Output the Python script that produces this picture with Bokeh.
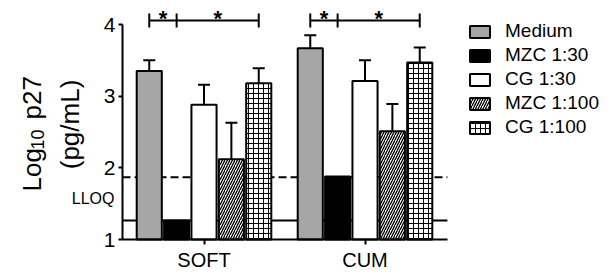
import math
from bokeh.plotting import figure
from bokeh.models import (ColumnDataSource, Legend, LegendItem, Label,
                          FixedTicker, Range1d, LinearAxis)
from bokeh.core.properties import value
from bokeh.embed import file_html
from bokeh.resources import INLINE

# ---------------- data ----------------
groups = ["SOFT", "CUM"]
series = ["Medium", "MZC 1:30", "CG 1:30", "MZC 1:100", "CG 1:100"]

medium = [3.35, 3.67]
medium_upper = [3.50, 3.85]
mzc_30 = [1.265, 1.88]
mzc_30_upper = [None, None]
cg_30 = [2.88, 3.21]
cg_30_upper = [3.16, 3.50]
mzc_100 = [2.12, 2.51]
mzc_100_upper = [2.63, 2.89]
cg_100 = [3.18, 3.47]
cg_100_upper = [3.39, 3.68]

lloq_solid = 1.265
lloq_dashed = 1.87

sig_pairs = [(0, 1), (1, 4)]   # significant comparisons within each group
y_ticks = [1, 2, 3, 4]

# ---------------- layout / styles ----------------
FONT = "Liberation Sans"
pitch = 0.170
bar_w = 0.156
x_axis_start, x_axis_end = -0.506, 1.512
y_axis_start, y_axis_end = 1, 4

styles = [
    dict(fill_color="#a6a6a6"),
    dict(fill_color="black"),
    dict(fill_color="white"),
    dict(fill_color="white", hatch_pattern="/", hatch_color="black", hatch_scale=5, hatch_weight=1.3),
    dict(fill_color="white", hatch_pattern="+", hatch_color="black", hatch_scale=5, hatch_weight=1.0),
]
means = [medium, mzc_30, cg_30, mzc_100, cg_100]
uppers = [medium_upper, mzc_30_upper, cg_30_upper, mzc_100_upper, cg_100_upper]

p = figure(width=606, height=271, output_backend="svg", toolbar_location=None,
           x_range=Range1d(-1.264, 2.500), y_range=Range1d(0.5535, 4.3349),
           x_axis_location=None, y_axis_location=None,
           min_border_left=0, min_border_right=0, min_border_top=0,
           min_border_bottom=0)
p.title.visible = False
p.outline_line_color = None
p.xgrid.grid_line_color = None
p.ygrid.grid_line_color = None
p.background_fill_color = "white"
p.border_fill_color = "white"

# LLOQ lines (under bars)
p.segment(x0=[x_axis_start], y0=[lloq_solid], x1=[x_axis_end], y1=[lloq_solid],
          line_color="black", line_width=2)
p.segment(x0=[x_axis_start], y0=[lloq_dashed], x1=[x_axis_end], y1=[lloq_dashed],
          line_color="black", line_width=2, line_dash="8 4")

group_x = list(range(len(groups)))
renderers = []
for i, (name, m, up, st) in enumerate(zip(series, means, uppers, styles)):
    xs = [g + (i - 2) * pitch for g in group_x]
    src = ColumnDataSource(dict(x=xs, top=m))
    r = p.vbar(x="x", top="top", bottom=y_axis_start, width=bar_w, source=src,
               line_color="black", line_width=2, **st)
    renderers.append(r)
    ex = [x for x, u in zip(xs, up) if u is not None]
    e0 = [mm for mm, u in zip(m, up) if u is not None]
    e1 = [u for u in up if u is not None]
    if ex:
        p.segment(x0=ex, y0=e0, x1=ex, y1=e1, line_color="black", line_width=2)
        p.dash(x=ex, y=e1, size=12, line_color="black", line_width=2)

# significance brackets
br_y = 4.056
br_h = 0.098
for g in group_x:
    pts = sorted(set([a for a, b in sig_pairs] + [b for a, b in sig_pairs]))
    xs_all = [g + (k - 2) * pitch for k in pts]
    p.segment(x0=[min(xs_all)], y0=[br_y], x1=[max(xs_all)], y1=[br_y],
              line_color="black", line_width=2)
    p.segment(x0=xs_all, y0=[br_y - br_h] * len(xs_all), x1=xs_all,
              y1=[br_y + br_h] * len(xs_all), line_color="black", line_width=2)
    sx = [g + ((a + b) / 2 - 2) * pitch for a, b in sig_pairs]
    p.text(x=sx, y=[4.09] * len(sx), text=["*"] * len(sx), text_align="center",
           text_baseline="alphabetic", text_font=value(FONT),
           text_font_size="22px", text_font_style="bold", text_color="black")

# axes (fixed at the data origin of the chart)
yaxis = LinearAxis(fixed_location=x_axis_start, ticker=FixedTicker(ticks=y_ticks),
                   bounds=(y_axis_start, y_axis_end))
yaxis.axis_line_width = 2
yaxis.major_tick_line_width = 2
yaxis.major_tick_out = 4
yaxis.major_tick_in = 0
yaxis.minor_tick_line_color = None
yaxis.major_label_standoff = 3
yaxis.major_label_text_font = FONT
yaxis.major_label_text_font_size = "21px"
yaxis.major_label_text_color = "black"
p.add_layout(yaxis, "left")

xaxis = LinearAxis(fixed_location=y_axis_start, ticker=FixedTicker(ticks=group_x),
                   bounds=(x_axis_start, x_axis_end))
xaxis.major_label_overrides = {i: g for i, g in enumerate(groups)}
xaxis.axis_line_width = 2
xaxis.major_tick_line_width = 2
xaxis.major_tick_out = 5
xaxis.major_tick_in = 0
xaxis.minor_tick_line_color = None
xaxis.major_label_standoff = 4
xaxis.major_label_text_font = FONT
xaxis.major_label_text_font_size = "20px"
xaxis.major_label_text_color = "black"
p.add_layout(xaxis, "below")

# y-axis title (rotated, two lines) and LLOQ label
lab_kw = dict(angle=math.pi / 2, text_font=FONT, text_color="black",
              text_baseline="alphabetic")
p.add_layout(Label(x=-1.066, y=1.670, text="Log", text_align="left",
                   text_font_size="26px", **lab_kw))
p.add_layout(Label(x=-1.036, y=2.256, text="10", text_align="left",
                   text_font_size="18px", **lab_kw))
p.add_layout(Label(x=-1.066, y=2.674, text="p27", text_align="left",
                   text_font_size="26px", **lab_kw))
p.add_layout(Label(x=-0.833, y=2.605, text="(pg/mL)", text_align="center",
                   text_font_size="26px", **lab_kw))
p.add_layout(Label(x=-0.556, y=1.579, text="LLOQ", text_align="right",
                   text_baseline="middle", text_font=FONT, text_font_size="16px",
                   text_color="black"))

legend = Legend(items=[LegendItem(label=s, renderers=[r]) for s, r in zip(series, renderers)],
                location=(467, 133), orientation="vertical",
                label_text_font=FONT, label_text_font_size="19px",
                label_text_color="black", glyph_width=25, glyph_height=15,
                label_standoff=13, spacing=2, padding=0, margin=0,
                border_line_color=None, background_fill_alpha=0)
p.add_layout(legend, "center")

open("out.html", "w").write(file_html(p, INLINE))
